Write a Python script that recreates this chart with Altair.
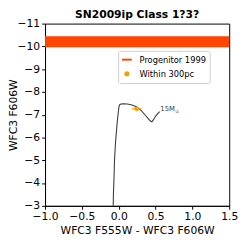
import altair as alt
import pandas as pd

# Stellar track (15 Msun), colour vs magnitude, in path order
track_color = [-0.076, -0.072, -0.064, -0.057, -0.045, -0.030, -0.018, -0.006, 0.002, 0.012,
               0.030, 0.060, 0.120, 0.180, 0.240, 0.300, 0.350, 0.400, 0.430, 0.450,
               0.470, 0.500, 0.530, 0.555]
track_mag = [-2.80, -3.50, -4.20, -5.00, -5.70, -6.30, -6.75, -7.10, -7.32, -7.43,
             -7.47, -7.48, -7.47, -7.43, -7.35, -7.20, -7.02, -6.83, -6.72, -6.69,
             -6.77, -6.93, -7.05, -7.14]

# Progenitor 1999 magnitude band
band_lo = [-10.44]
band_hi = [-9.96]

# Observation within 300pc
obs_series = ["Within 300pc"]
obs_color = [0.245]
obs_color_lo = [0.18]
obs_color_hi = [0.31]
obs_mag = [-7.26]

series_names = ["Progenitor 1999", "Within 300pc"]
series_fill = ["#ff4500", "#ffa500"]
series_stroke = ["#ff4500", "#f0a000"]

label_text = ["15M"]
label_color = [0.565]
label_mag = [-7.24]

x_ticks = [-1.0, -0.5, 0.0, 0.5, 1.0, 1.5]
y_ticks = [-11, -10, -9, -8, -7, -6, -5, -4, -3]

track_df = pd.DataFrame({"c": track_color, "m": track_mag, "i": list(range(len(track_color)))})
band_df = pd.DataFrame({"lo": band_lo, "hi": band_hi})
obs_df = pd.DataFrame({"series": obs_series, "c": obs_color, "clo": obs_color_lo,
                       "chi": obs_color_hi, "m": obs_mag})
lab_df = pd.DataFrame({"t": label_text, "c": label_color, "m": label_mag})

xscale = alt.Scale(domain=[-1.0, 1.5], nice=False, zero=False)
yscale = alt.Scale(domain=[-11, -3], reverse=True, nice=False, zero=False)

xax = alt.Axis(values=x_ticks, format=".1f", title="WFC3 F555W - WFC3 F606W",
               labelFlush=False, grid=False)
yax = alt.Axis(values=y_ticks, format="d", title="WFC3 F606W", grid=False,
               titleX=-29, titleY=93.5, titleBaseline="alphabetic", titleAngle=270)

X = alt.X("c:Q", scale=xscale, axis=xax)
Y = alt.Y("m:Q", scale=yscale, axis=yax)

band = alt.Chart(band_df).mark_rect(color="#ff4500", clip=True).encode(
    x=alt.value(0), x2=alt.value(189),
    y=alt.Y("lo:Q", scale=yscale, axis=yax), y2="hi:Q")

track = alt.Chart(track_df).mark_line(color="#3a3a3a", strokeWidth=1.1, clip=True).encode(
    x=X, y=Y, order="i:Q")

err = alt.Chart(obs_df).mark_rule(color="#ffa500", strokeWidth=1.4).encode(
    x=alt.X("clo:Q", scale=xscale, axis=xax), x2="chi:Q",
    y=alt.Y("m:Q", scale=yscale, axis=yax))

line_path = "M-1,0H1"
circle_path = "M0,-0.33A0.33,0.33 0 1,1 0,0.33A0.33,0.33 0 1,1 0,-0.33Z"

leg = alt.Legend(orient="none", legendX=75, legendY=28, title=None,
                 labelFontSize=8.5, labelFont="DejaVu Sans", labelColor="black",
                 symbolSize=100, symbolStrokeWidth=2, rowPadding=3.5, labelOffset=7,
                 padding=3, strokeColor="#d0d0d0", fillColor="white", cornerRadius=2)

pts = alt.Chart(obs_df).mark_point(filled=True, size=100, strokeWidth=1.5, opacity=1).encode(
    x=X, y=Y,
    fill=alt.Fill("series:N", scale=alt.Scale(domain=series_names, range=series_fill), legend=leg),
    stroke=alt.Stroke("series:N", scale=alt.Scale(domain=series_names, range=series_stroke), legend=leg),
    shape=alt.Shape("series:N", scale=alt.Scale(domain=series_names, range=[line_path, circle_path]), legend=leg),
)

lab = alt.Chart(lab_df).mark_text(align="left", baseline="middle", fontSize=7,
                                  font="DejaVu Sans", color="#444444").encode(
    x=X, y=Y, text="t:N")
sun = alt.Chart(lab_df).mark_text(align="left", baseline="middle", fontSize=5,
                                  font="DejaVu Sans", color="#444444", dx=15, dy=2.2).encode(
    x=X, y=Y, text=alt.value("☉"))

chart = alt.layer(band, track, err, pts, lab, sun).properties(
    width=189, height=187,
    title=alt.TitleParams("SN2009ip Class 1?3?", fontSize=11, font="DejaVu Sans",
                          fontWeight="bold", color="black", offset=3, dy=5),
    autosize=alt.AutoSizeParams(type="none"),
    padding={"left": 38, "top": 13, "right": 9, "bottom": 30},
).configure_axis(
    labelFont="DejaVu Sans", labelFontSize=11, labelColor="black",
    titleFont="DejaVu Sans", titleFontSize=11, titleFontWeight="normal", titleColor="black",
    domainColor="black", tickColor="black", tickSize=3.5, labelPadding=2, titlePadding=3,
).configure_view(stroke="black", strokeWidth=1)

chart.save("out.html", embed_options={"renderer": "svg", "actions": False})
